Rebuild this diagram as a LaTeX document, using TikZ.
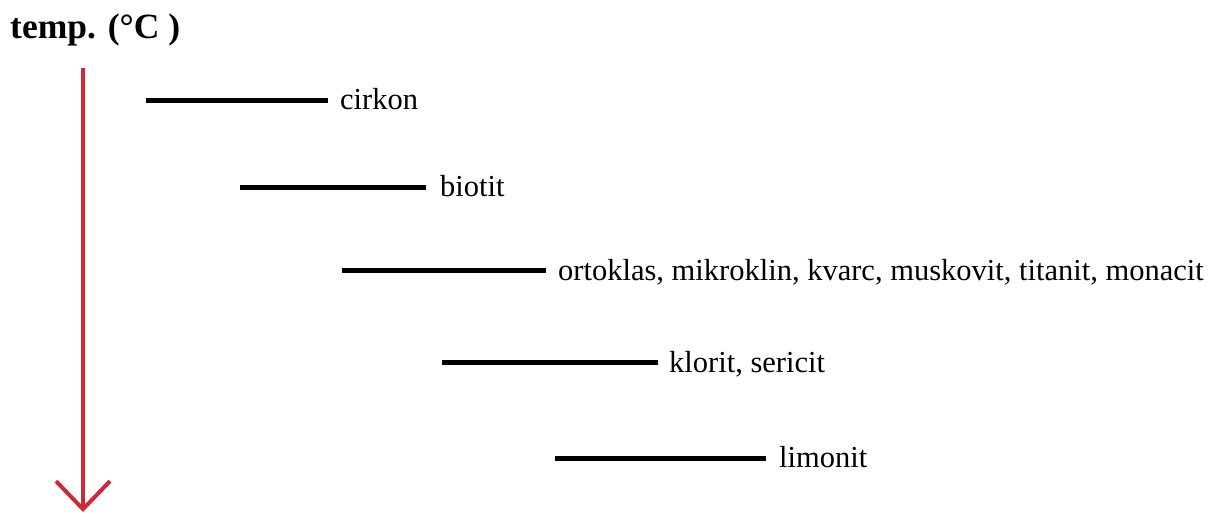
\documentclass[tikz,border=0pt]{standalone}
\usepackage{fontspec}
\setmainfont{Liberation Serif}
\usetikzlibrary{arrows.meta}
\definecolor{arrowred}{RGB}{204,42,56}
\tikzset{
  bar/.style={line width=5pt, black},
  lbl/.style={anchor=base west, inner sep=0pt, font=\fontsize{30.5}{36}\selectfont},
  axis/.style={line width=4pt, arrowred, -{Straight Barb[length=28pt,width=54pt,line width=4pt]}}
}
\begin{document}
\begin{tikzpicture}[x=1pt,y=1pt]
\useasboundingbox (0,0) rectangle (1219,-515);
\node[anchor=base west, inner sep=0pt, font=\fontsize{35.5}{40}\selectfont\bfseries] (title) at (10,-38) {temp. (°C )};
\coordinate (atop) at (83,-68);
\coordinate (abot) at (83,-512);
\draw[axis] (atop) -- (abot);
% cirkon
\coordinate (s1) at (146,-100); \coordinate (e1) at (328,-100);
\draw[bar] (s1) -- (e1);
\node[lbl] (t1) at (340,-109) {cirkon};
% biotit
\coordinate (s2) at (240,-187); \coordinate (e2) at (426,-187);
\draw[bar] (s2) -- (e2);
\node[lbl] (t2) at (440,-196) {biotit};
% ortoklas
\coordinate (s3) at (342,-270); \coordinate (e3) at (546,-270);
\draw[bar] (s3) -- (e3);
\node[lbl] (t3) at (558,-280) {ortoklas, mikroklin, kvarc, muskovit, titanit, monacit};
% klorit
\coordinate (s4) at (442,-362); \coordinate (e4) at (658,-362);
\draw[bar] (s4) -- (e4);
\node[lbl] (t4) at (669,-372) {klorit, sericit};
% limonit
\coordinate (s5) at (555,-458); \coordinate (e5) at (766,-458);
\draw[bar] (s5) -- (e5);
\node[lbl] (t5) at (779,-467) {limonit};
\end{tikzpicture}
\end{document}
